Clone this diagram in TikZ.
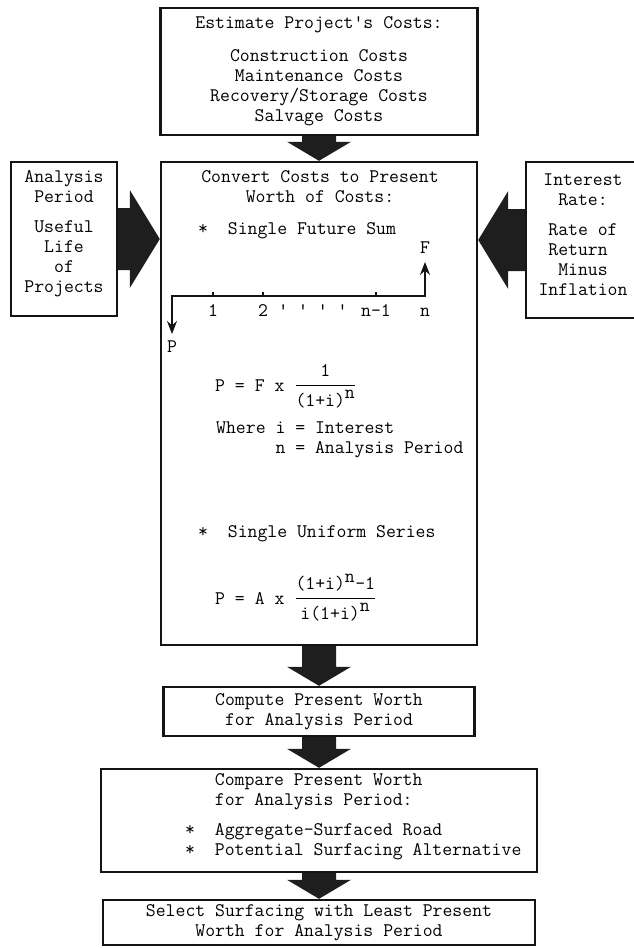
\documentclass[tikz,border=0pt]{standalone}
\usepackage{amsmath}
\usepackage{fontspec}
\usetikzlibrary{arrows.meta,calc}
\definecolor{flowink}{HTML}{141414}
\definecolor{flowblk}{HTML}{1E1E1E}
\tikzset{
  box/.style={draw=flowink,line width=2.4pt,inner sep=0pt,align=center},
  txt/.style={inner sep=0pt,text height=12pt,text depth=3.5pt},
  tline/.style={draw=flowink,line width=1.8pt},
  tarr/.style={tline,{Stealth[length=13pt,width=10pt]}-{Stealth[length=13pt,width=10pt]}},
  blk/.style={fill=flowblk},
}
% fat arrows between boxes
\newcommand{\blkdown}[2]{\fill[blk] ($(#1)+(-17,0)$) -- ($(#1)+(17,0)$) -- ($(#2)+(17,-19)$) -- ($(#2)+(32,-19)$) -- (#2) -- ($(#2)+(-32,-19)$) -- ($(#2)+(-17,-19)$) -- cycle;}
\newcommand{\blkside}[3]{\fill[blk] ($(#1)+(0,-31)$) -- ($(#1)+(0,31)$) -- ($(#2)+(#3,31)$) -- ($(#2)+(#3,49)$) -- (#2) -- ($(#2)+(#3,-49)$) -- ($(#2)+(#3,-31)$) -- cycle;}
\newcommand{\frc}[2]{\genfrac{}{}{1.2pt}{0}{#1}{#2}}

\begin{document}
\begin{tikzpicture}[x=1pt,y=-1pt,font=\ttfamily\fontsize{19.2pt}{20pt}\selectfont]
  \path[use as bounding box,fill=white] (0,0) rectangle (633,948);

  % boxes
  \node[box,minimum width=317pt,minimum height=127pt] (cost) at (319,71.5)
    {Estimate Project's Costs:\\[13pt]Construction Costs\\Maintenance Costs\\Recovery/Storage Costs\\Salvage Costs};
  \node[box,minimum width=316pt,minimum height=483pt] (conv) at (319,403.5) {};
  \node[box,minimum width=106pt,minimum height=154pt] (per) at (64,239)
    {Analysis\\Period\\[10pt]Useful\\Life\\of\\Projects\\[-4pt]\mbox{}};
  \node[box,minimum width=114pt,minimum height=156pt] (rate) at (583,240)
    {Interest\\Rate:\\[10pt]Rate of\\Return\hphantom{x}\\Minus\\Inflation\\[-10pt]\mbox{}};
  \node[box,minimum width=311pt,minimum height=49pt] (pw) at (319,711.5)
    {Compute Present Worth\\for Analysis Period};
  \node[box,minimum width=436pt,minimum height=103pt] (cmp) at (319,820.5) {};
  \node[box,minimum width=432pt,minimum height=45pt] (sel) at (319,922.5)
    {Select Surfacing with Least Present\\Worth for Analysis Period};

  % inside the convert box
  \node[inner sep=0pt,align=center] (convt) at (320,187) {Convert Costs to Present\\Worth of Costs:};
  \node[txt,anchor=west] (sum1) at (198,230) {*\hphantom{xx}Single Future Sum};
  \coordinate (t0) at (172,296);
  \coordinate (tn) at (425,296);
  \node[txt] (flab) at (425,249) {F};
  \node[txt] (plab) at (172,348) {P};
  \draw[tarr,shorten <=6pt,shorten >=5pt] (plab) -- (t0) -- (tn) -- (flab);
  \foreach \tx in {213,263,376} \draw[tline] (\tx,296) -- (\tx,292);
  \node[txt] (k1) at (213,312) {1};
  \node[txt] (k2) at (263,312) {2};
  \node[txt] (kd) at (313,312) {' ' ' '};
  \node[txt] (km) at (376,312) {n-1};
  \node[txt] (kn) at (425,312) {n};
  \node[inner sep=0pt,anchor=base west] (fsum) at (215,391)
    {P = F x $\frc{\mbox{1}}{\mbox{(1+i)}^{\mbox{n}}}$};
  \node[inner sep=0pt,anchor=west,align=left] (where) at (216,440)
    {Where i = Interest\\\hphantom{xxxxxx}n = Analysis Period};
  \node[txt,anchor=west] (sum2) at (198,533) {*\hphantom{xx}Single Uniform Series};
  \node[inner sep=0pt,anchor=base west] (fser) at (215,604)
    {P = A x $\frc{\mbox{(1+i)}^{\mbox{n}}\mbox{-1}}{\mbox{i(1+i)}^{\mbox{n}}}$};

  % inside the compare box
  \node[inner sep=0pt,anchor=west,align=left] (cmpt) at (185,816.5)
    {\hphantom{xxx}Compare Present Worth\\\hphantom{xxx}for Analysis Period:\\[10pt]{*}\hphantom{xx}Aggregate-Surfaced Road\\{*}\hphantom{xx}Potential Surfacing Alternative};

  % fat arrows
  \coordinate (pin) at (per.east -| conv.west);
  \coordinate (rin) at (rate.west -| conv.east);
  \blkside{per.east}{pin}{-30}
  \blkside{rate.west}{rin}{30}
  \blkdown{cost.south}{conv.north}
  \blkdown{conv.south}{pw.north}
  \blkdown{pw.south}{cmp.north}
  \blkdown{cmp.south}{sel.north}
\end{tikzpicture}
\end{document}
